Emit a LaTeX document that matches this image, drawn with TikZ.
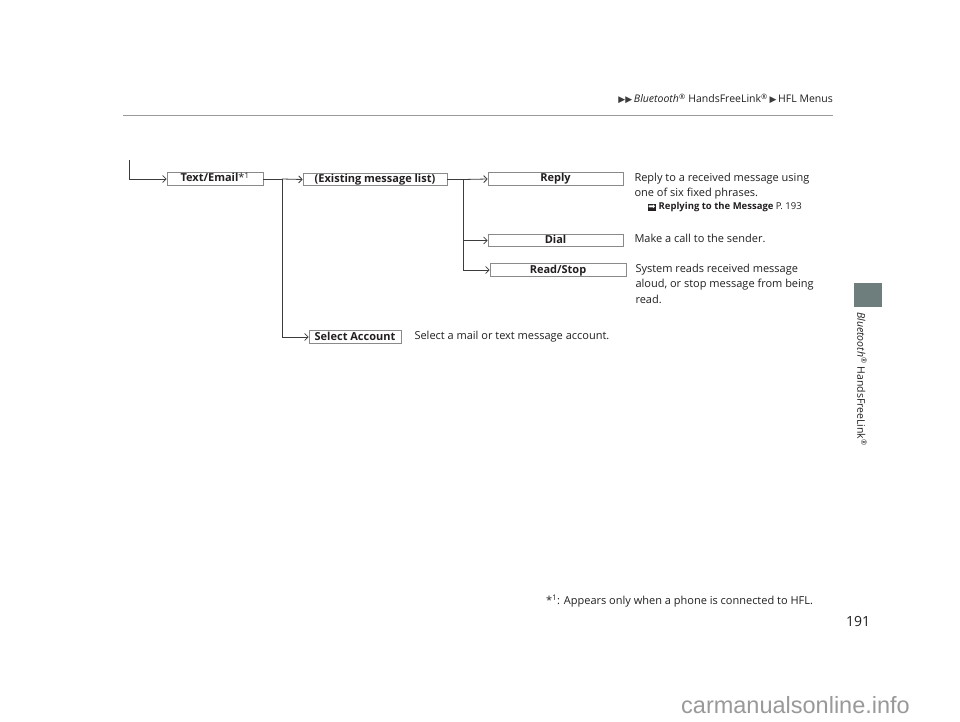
\documentclass[tikz,border=0pt]{standalone}
\usepackage{fontspec}
\setmainfont{Open Sans}
\newfontfamily\dejavu{DejaVu Sans}
\newfontfamily\wmfont{Liberation Sans}
\usetikzlibrary{positioning,arrows.meta}
\definecolor{hflline}{HTML}{3C3C3C}
\definecolor{hflbox}{HTML}{8A8A8A}
\definecolor{hfltab}{HTML}{6E7E7C}
\definecolor{hflrule}{HTML}{9A9A9A}
\definecolor{hflink}{HTML}{231F20}
\newcommand{\hflmark}{{\setlength{\fboxsep}{0.8pt}\colorbox{hflink}{\textcolor{white}{\dejavu\fontsize{8.5}{8.5}\selectfont ➡}}}}
\newcommand{\hfltri}{{\dejavu\fontsize{9}{9}\selectfont\color{hflline}▶}}
\tikzset{
    menu/.style={draw=hflbox,fill=white,line width=0.6pt,inner sep=0pt,
        minimum height=12.5pt,text height=8pt,text depth=2pt,
        font=\fontsize{11}{13}\selectfont\bfseries,text=hflink},
    desc/.style={inner sep=0pt,align=left,text=hflink,
        font=\fontsize{11}{15.5}\selectfont},
    trunk/.style={draw=hflline,line width=0.8pt},
    branch/.style={trunk,-{Straight Barb[length=3.5pt,width=7pt]}},
}

\begin{document}
\begin{tikzpicture}[x=1pt,y=-1pt]
    \useasboundingbox[fill=white] (0,0) rectangle (960,722);

    % page header
    \node[anchor=base east,inner sep=0pt,text=hflink,font=\fontsize{10.5}{12}\selectfont] (head) at (833,103)
        {\hfltri\hfltri\,\textit{Bluetooth}\textsuperscript{®} HandsFreeLink\textsuperscript{®}\,\hfltri\,HFL Menus};
    \draw[hflrule,line width=0.8pt] (123,115) -- (833,115);

    % menu boxes
    \node[menu,minimum width=96pt] (txt) at (215,179) {Text/Email{\mdseries*\textsuperscript{1}}};
    \node[menu,minimum width=144pt] (exist) at (375,179.5) {(Existing message list)};
    \node[menu,minimum width=92pt] (sel) at (355,337) {Select Account};
    \node[menu,minimum width=135pt] (reply) at (555.5,179) {Reply};
    \node[menu,minimum width=135pt] (dial) at (555.5,240.5) {Dial};
    \node[menu,minimum width=136pt] (rs) at (558,270) {Read/Stop};

    % descriptions
    \node[desc,right=11pt of reply.north east,anchor=north west] (replytxt)
        {Reply to a received message using\\one of six fixed phrases.};
    \node[desc,anchor=north west,font=\fontsize{9.5}{11}\selectfont] (replyref)
        at ([xshift=13pt,yshift=-3pt]replytxt.south west)
        {\hflmark\ \textbf{Replying to the Message} P. 193};
    \node[desc,right=11pt of dial.north east,anchor=north west] (dialtxt)
        {Make a call to the sender.};
    \node[desc,right=9pt of rs.north east,anchor=north west] (rstxt)
        {System reads received message\\aloud, or stop message from being\\read.};
    \node[desc,right=13pt of sel.north east,anchor=north west] (seltxt)
        {Select a mail or text message account.};

    % connectors
    \coordinate (top) at (129,160);
    \coordinate (ja) at (282,179);
    \coordinate (jb) at (463,179.5);
    \draw[branch] (top) |- (txt.west);
    \draw[trunk] (txt.east) -- (ja);
    \draw[branch] (ja) -- (exist.west);
    \draw[branch] (ja) |- (sel.west);
    \draw[trunk] (exist.east) -- (jb);
    \draw[branch] (jb) -- (reply.west);
    \draw[branch] (jb) |- (dial.west);
    \draw[branch] (jb) |- (rs.west);

    % side tab
    \fill[hfltab] (854,283) rectangle (882,307);
    \node[rotate=-90,anchor=west,inner sep=0pt,text=hflink,font=\fontsize{10.5}{12}\selectfont] (side) at (862,312)
        {\textit{Bluetooth}\textsuperscript{®} HandsFreeLink\textsuperscript{®}};

    % footnote, page number
    \node[anchor=base west,inner sep=0pt,text=hflink,font=\fontsize{11}{13}\selectfont] (fnote) at (546,604)
        {*\textsuperscript{1}: Appears only when a phone is connected to HFL.};
    \node[inner sep=0pt,text=hflink,font=\fontsize{14}{17}\selectfont] (pnum) at (858,621) {191};
    \node[anchor=base west,inner sep=0pt,text=black!40,font=\wmfont\fontsize{23.5}{26}\selectfont] (wm) at (681,713)
        {carmanualsonline.info};
\end{tikzpicture}
\end{document}
